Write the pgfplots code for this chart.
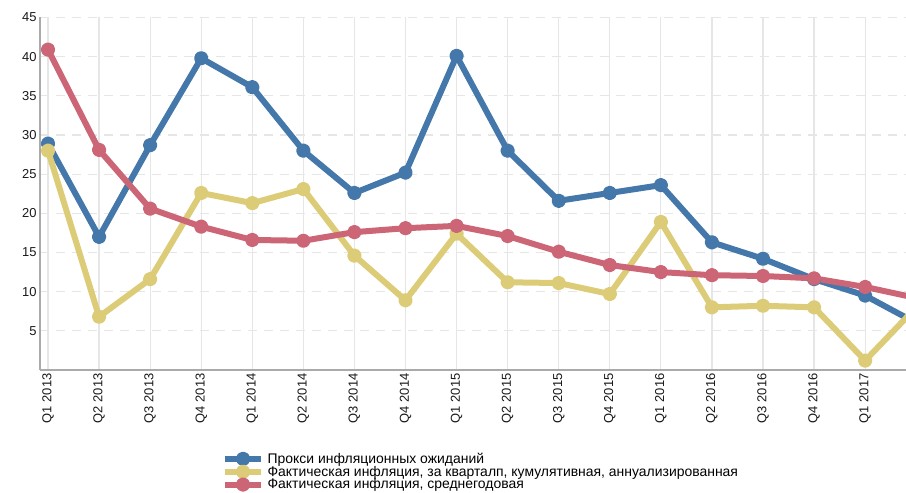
\documentclass[border=0pt]{standalone}
\usepackage{fontspec}
\setmainfont{Liberation Sans}
\usepackage{pgfplots}
\pgfplotsset{compat=1.18}
\definecolor{cblue}{HTML}{4477AA}
\definecolor{cyellow}{HTML}{DDCC77}
\definecolor{cred}{HTML}{CC6677}
\definecolor{gridc}{HTML}{E6E6E6}
\definecolor{axc}{HTML}{AAAAAA}
\begin{document}
\begin{tikzpicture}
\begin{axis}[
  scale only axis, width=866bp, height=352.5bp,
  xmin=-0.157, xmax=16.8, ymin=0, ymax=45,
  axis x line*=bottom, axis y line*=left,
  axis line style={draw=axc, line width=1.6bp, -},
  xtick={0,...,16},
  xticklabels={Q1 2013,Q2 2013,Q3 2013,Q4 2013,Q1 2014,Q2 2014,Q3 2014,Q4 2014,Q1 2015,Q2 2015,Q3 2015,Q4 2015,Q1 2016,Q2 2016,Q3 2016,Q4 2016,Q1 2017},
  x tick label style={rotate=90, anchor=east, xshift=0bp},
  ytick={5,10,...,45},
  major tick length=0pt,
  xmajorgrids, ymajorgrids,
  major x grid style={draw=gridc, line width=1.2bp},
  major y grid style={draw=gridc, line width=1.2bp, dash pattern=on 9bp off 7bp},
  tick label style={font=\fontsize{13}{15}\selectfont, text=black!90},
  /pgf/number format/assume math mode=true,
  legend style={at={(axis description cs:0.210,-0.229)}, anchor=north west, draw=none, fill=none, inner sep=0pt, row sep=-2.8bp,
    font=\fontsize{14}{16}\selectfont, /tikz/every odd column/.style={column sep=1.5bp}},
  legend cell align=left,
  legend image code/.code={\draw[#1, mark repeat=2, mark phase=2] plot coordinates {(0bp,0bp) (18bp,0bp) (36bp,0bp)};},
  every axis plot/.append style={line width=6bp, line join=round, mark=*, mark size=4.2bp, mark options={line width=1bp, solid}},
]
\coordinate (O) at (rel axis cs:0,0);
\addplot[cblue, mark options={fill=cblue}] coordinates {
(0,28.9) (1,17.0) (2,28.7) (3,39.8) (4,36.1) (5,28.0) (6,22.6) (7,25.2) (8,40.1) (9,28.0) (10,21.6) (11,22.6) (12,23.6) (13,16.3) (14,14.2) (15,11.6) (16,9.5) (17,6.0)};
\addlegendentry{Прокси инфляционных ожиданий}
\addplot[cyellow, mark options={fill=cyellow}] coordinates {
(0,28.0) (1,6.8) (2,11.6) (3,22.6) (4,21.3) (5,23.1) (6,14.6) (7,8.9) (8,17.4) (9,11.2) (10,11.1) (11,9.7) (12,18.9) (13,8.0) (14,8.2) (15,8.0) (16,1.2) (17,8.0)};
\addlegendentry{Фактическая инфляция, за кварталп, кумулятивная, аннуализированная}
\addplot[cred, mark options={fill=cred}] coordinates {
(0,40.9) (1,28.1) (2,20.6) (3,18.3) (4,16.6) (5,16.5) (6,17.6) (7,18.1) (8,18.4) (9,17.1) (10,15.1) (11,13.4) (12,12.5) (13,12.1) (14,12.0) (15,11.7) (16,10.6) (17,9.2)};
\addlegendentry{Фактическая инфляция, среднегодовая}
\end{axis}
\pgfresetboundingbox
\path (O) ++(-40bp,-123bp) rectangle ++(906bp,493bp);
\end{tikzpicture}
\end{document}
